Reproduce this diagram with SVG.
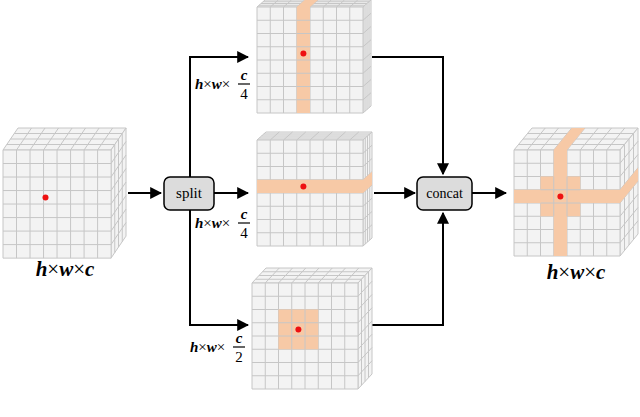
<svg xmlns="http://www.w3.org/2000/svg" xmlns:xlink="http://www.w3.org/1999/xlink" width="640" height="417" viewBox="0 0 640 417">
<style>
.g line{stroke:#c6c6c6;stroke-width:1;vector-effect:non-scaling-stroke}
.bg{fill:#f3f3f3;stroke:#c6c6c6;stroke-width:1;vector-effect:non-scaling-stroke}
.hl{fill:#f7c9a6}
.dot{fill:#ee1111}
.c{stroke:#000;stroke-width:2;fill:none}
.box{fill:#dcdcdc;stroke:#000;stroke-width:1.5}
.bt{font-family:"Liberation Serif",serif;font-size:21px;text-anchor:middle}
.m{font-family:"Liberation Serif",serif;font-weight:bold;font-style:italic}
.x{font-family:"Liberation Serif",serif}
</style>
<defs>
<marker id="ar" viewBox="0 0 10 10" refX="9" refY="5" markerWidth="6" markerHeight="6" orient="auto"><path d="M0,0L10,5L0,10z" fill="#000"/></marker>
<g id="front" class="g"><rect class="bg" x="0" y="0" width="106" height="106"/>
<line x1="13.25" y1="0" x2="13.25" y2="106"/><line x1="26.5" y1="0" x2="26.5" y2="106"/><line x1="39.75" y1="0" x2="39.75" y2="106"/><line x1="53" y1="0" x2="53" y2="106"/><line x1="66.25" y1="0" x2="66.25" y2="106"/><line x1="79.5" y1="0" x2="79.5" y2="106"/><line x1="92.75" y1="0" x2="92.75" y2="106"/>
<line y1="13.25" x1="0" y2="13.25" x2="106"/><line y1="26.5" x1="0" y2="26.5" x2="106"/><line y1="39.75" x1="0" y2="39.75" x2="106"/><line y1="53" x1="0" y2="53" x2="106"/><line y1="66.25" x1="0" y2="66.25" x2="106"/><line y1="79.5" x1="0" y2="79.5" x2="106"/><line y1="92.75" x1="0" y2="92.75" x2="106"/></g>
<g id="top" class="g"><rect class="bg" x="0" y="0" width="106" height="1"/>
<line x1="13.25" y1="0" x2="13.25" y2="1"/><line x1="26.5" y1="0" x2="26.5" y2="1"/><line x1="39.75" y1="0" x2="39.75" y2="1"/><line x1="53" y1="0" x2="53" y2="1"/><line x1="66.25" y1="0" x2="66.25" y2="1"/><line x1="79.5" y1="0" x2="79.5" y2="1"/><line x1="92.75" y1="0" x2="92.75" y2="1"/>
<line x1="0" y1="0.25" x2="106" y2="0.25"/><line x1="0" y1="0.5" x2="106" y2="0.5"/><line x1="0" y1="0.75" x2="106" y2="0.75"/></g>
<g id="side" class="g"><rect class="bg" x="0" y="0" width="1" height="106"/>
<line y1="13.25" x1="0" y2="13.25" x2="1"/><line y1="26.5" x1="0" y2="26.5" x2="1"/><line y1="39.75" x1="0" y2="39.75" x2="1"/><line y1="53" x1="0" y2="53" x2="1"/><line y1="66.25" x1="0" y2="66.25" x2="1"/><line y1="79.5" x1="0" y2="79.5" x2="1"/><line y1="92.75" x1="0" y2="92.75" x2="1"/>
<line x1="0.25" y1="0" x2="0.25" y2="106"/><line x1="0.5" y1="0" x2="0.5" y2="106"/><line x1="0.75" y1="0" x2="0.75" y2="106"/></g>
</defs>

<g id="connectors">
<line class="c" x1="128" y1="193" x2="161" y2="193" marker-end="url(#ar)"/>
<line class="c" x1="214" y1="193" x2="248" y2="193" marker-end="url(#ar)"/>
<polyline class="c" points="190,57 190,325 248,325" marker-end="url(#ar)"/>
<polyline class="c" points="190,177 190,57 248,57" marker-end="url(#ar)"/>
<polyline class="c" points="372,57 443,57 443,174" marker-end="url(#ar)"/>
<polyline class="c" points="372,325 443,325 443,213" marker-end="url(#ar)"/>
<line class="c" x1="374" y1="193" x2="415" y2="193" marker-end="url(#ar)"/>
<line class="c" x1="472" y1="193" x2="506" y2="193" marker-end="url(#ar)"/>
</g>

<g id="input">
<use href="#top" transform="matrix(1.02,0,15,-22,3,150)"/>
<use href="#side" transform="matrix(15,-22,0,1.02,111,150)"/>
<use href="#front" transform="matrix(1.02,0,0,1.02,3,150)"/>
<circle class="dot" cx="45.5" cy="197.5" r="3"/>
<text class="bt" x="65" y="276"><tspan class="m">h</tspan>×<tspan class="m">w</tspan>×<tspan class="m">c</tspan></text>
</g>

<g id="split"><rect class="box" x="164" y="177" width="50" height="33" rx="6"/><text class="x" x="189" y="198" font-size="15" text-anchor="middle">split</text></g>
<g id="concat"><rect class="box" x="417" y="177" width="55" height="33" rx="6"/><text class="x" x="444.5" y="198" font-size="14" text-anchor="middle">concat</text></g>

<g id="cube-top">
<use href="#top" transform="matrix(1,0,8,-7,257,7)"/>
<use href="#side" transform="matrix(8,-7,0,1,363,7)"/>
<use href="#front" transform="translate(257,7)"/>
<polygon class="hl" points="296.75,7 310,7 318,0 304.75,0"/>
<rect class="hl" x="296.75" y="7" width="13.25" height="106"/>
<g class="g" transform="translate(257,7)"><line x1="39.75" y1="13.25" x2="53" y2="13.25"/><line x1="39.75" y1="26.5" x2="53" y2="26.5"/><line x1="39.75" y1="39.75" x2="53" y2="39.75"/><line x1="39.75" y1="53" x2="53" y2="53"/><line x1="39.75" y1="66.25" x2="53" y2="66.25"/><line x1="39.75" y1="79.5" x2="53" y2="79.5"/><line x1="39.75" y1="92.75" x2="53" y2="92.75"/></g>
<circle class="dot" cx="303.4" cy="53.4" r="3"/>
</g>
<g id="label-top"><text x="195" y="89" font-size="15"><tspan class="m">h</tspan><tspan class="x">×</tspan><tspan class="m">w</tspan><tspan class="x">×</tspan></text><text class="m" x="244" y="80" font-size="15" text-anchor="middle">c</text><line x1="238" y1="84" x2="250" y2="84" stroke="#000" stroke-width="1.2"/><text class="x" x="244" y="99" font-size="15" text-anchor="middle">4</text></g>

<g id="cube-mid">
<use href="#top" transform="matrix(1,0,9,-8,257,140)"/>
<use href="#side" transform="matrix(9,-8,0,1,363,140)"/>
<use href="#front" transform="translate(257,140)"/>
<rect class="hl" x="257" y="179.75" width="106" height="13.25"/>
<polygon class="hl" points="363,179.75 372,171.75 372,185 363,193"/>
<circle class="dot" cx="303.4" cy="186.4" r="3"/>
</g>
<g id="label-mid"><text x="195" y="228" font-size="15"><tspan class="m">h</tspan><tspan class="x">×</tspan><tspan class="m">w</tspan><tspan class="x">×</tspan></text><text class="m" x="244" y="219" font-size="15" text-anchor="middle">c</text><line x1="238" y1="223" x2="250" y2="223" stroke="#000" stroke-width="1.2"/><text class="x" x="244" y="238" font-size="15" text-anchor="middle">4</text></g>

<g id="cube-bottom">
<use href="#top" transform="matrix(1,0,14,-15,252,283)"/>
<use href="#side" transform="matrix(14,-15,0,1,358,283)"/>
<use href="#front" transform="translate(252,283)"/>
<rect class="hl" x="278.5" y="309.5" width="39.75" height="39.75"/>
<g class="g"><line x1="291.75" y1="309.5" x2="291.75" y2="349.25"/><line x1="305" y1="309.5" x2="305" y2="349.25"/><line x1="278.5" y1="322.75" x2="318.25" y2="322.75"/><line x1="278.5" y1="336" x2="318.25" y2="336"/></g>
<circle class="dot" cx="298.4" cy="329.4" r="3"/>
</g>
<g id="label-bottom"><text x="190" y="352" font-size="15"><tspan class="m">h</tspan><tspan class="x">×</tspan><tspan class="m">w</tspan><tspan class="x">×</tspan></text><text class="m" x="239" y="343" font-size="15" text-anchor="middle">c</text><line x1="233" y1="347" x2="245" y2="347" stroke="#000" stroke-width="1.2"/><text class="x" x="239" y="362" font-size="15" text-anchor="middle">2</text></g>

<g id="output">
<use href="#top" transform="matrix(1,0,18,-22,514,150)"/>
<use href="#side" transform="matrix(18,-22,0,1,620,150)"/>
<use href="#front" transform="translate(514,150)"/>
<polygon class="hl" points="553.75,150 567,150 585,128 571.75,128"/>
<rect class="hl" x="553.75" y="150" width="13.25" height="106"/>
<rect class="hl" x="514" y="189.75" width="106" height="13.25"/>
<polygon class="hl" points="620,189.75 638,167.75 638,181 620,203"/>
<rect class="hl" x="540.5" y="176.5" width="39.75" height="39.75"/>
<g class="g"><line x1="553.75" y1="176.5" x2="553.75" y2="216.25"/><line x1="567" y1="176.5" x2="567" y2="216.25"/><line x1="540.5" y1="189.75" x2="580.25" y2="189.75"/><line x1="540.5" y1="203" x2="580.25" y2="203"/></g>
<circle class="dot" cx="560.4" cy="196.4" r="3"/>
<text class="bt" x="576" y="279"><tspan class="m">h</tspan>×<tspan class="m">w</tspan>×<tspan class="m">c</tspan></text>
</g>
</svg>
